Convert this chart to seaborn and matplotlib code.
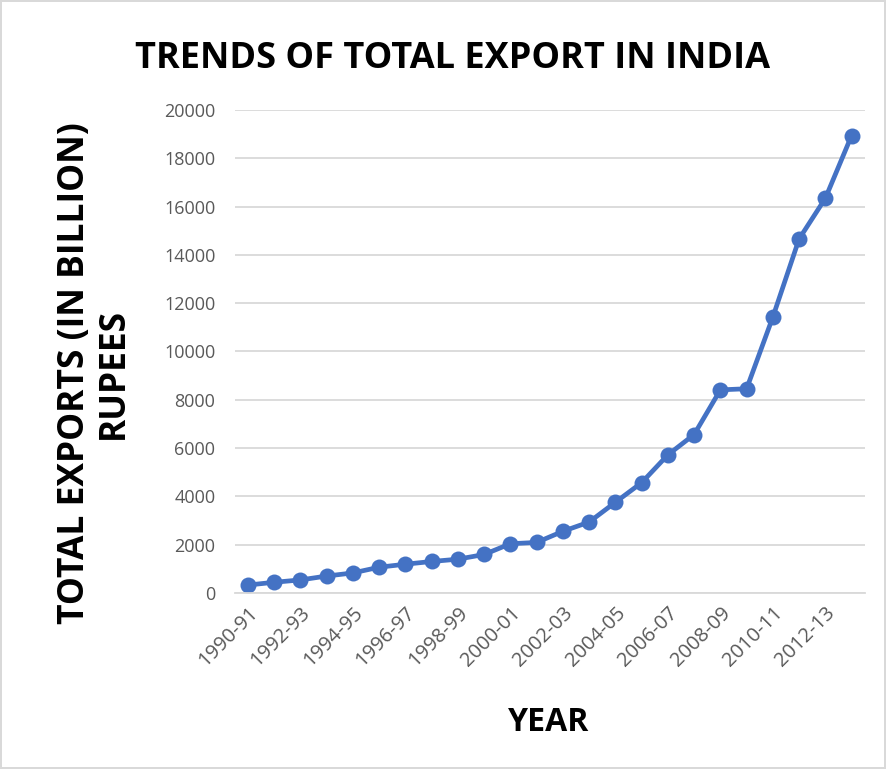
import matplotlib
matplotlib.use('Agg')
import matplotlib.pyplot as plt
import seaborn as sns
import pandas as pd
import numpy as np

years = ['1990-91', '1991-92', '1992-93', '1993-94', '1994-95', '1995-96',
         '1996-97', '1997-98', '1998-99', '1999-00', '2000-01', '2001-02',
         '2002-03', '2003-04', '2004-05', '2005-06', '2006-07', '2007-08',
         '2008-09', '2009-10', '2010-11', '2011-12', '2012-13', '2013-14']
exports = [325, 440, 537, 698, 827, 1064, 1188, 1301, 1396, 1591, 2036, 2090,
           2551, 2934, 3753, 4564, 5718, 6559, 8408, 8455, 11427, 14660, 16343, 18940]

df = pd.DataFrame({'year': years, 'exports': exports})
df['idx'] = np.arange(len(years))

sns.set_theme(style='white')
plt.rcParams['font.family'] = ['Open Sans', 'DejaVu Sans']

fig = plt.figure(figsize=(8.86, 7.69), dpi=100)
fig.patch.set_edgecolor('#d9d9d9')
fig.patch.set_linewidth(1.5)
ax = fig.add_axes([0.265, 0.229, 0.711, 0.628])

sns.lineplot(data=df, x='idx', y='exports', ax=ax, color='#4472C4',
             linewidth=3.4, marker='o', markersize=11.5, markeredgewidth=0)

ax.set_xlim(-0.5, len(years) - 0.5)
ax.set_ylim(0, 20000)
ax.set_yticks(range(0, 20001, 2000))
ax.yaxis.grid(True, color='#d9d9d9', linewidth=1.3)
ax.set_axisbelow(True)
for s in ['top', 'right', 'left']:
    ax.spines[s].set_visible(False)
ax.spines['bottom'].set_color('#d9d9d9')
ax.spines['bottom'].set_linewidth(1.3)

ax.set_xticks(df['idx'][::2])
ax.set_xticklabels(years[::2], rotation=45, ha='right', rotation_mode='anchor',
                   fontsize=14.5, color='#595959')
ax.tick_params(axis='y', labelsize=13, labelcolor='#595959', length=0, pad=14)
ax.tick_params(axis='x', length=0, pad=7)

ax.set_xlabel('YEAR', fontsize=23, fontweight='bold', color='black')
ax.xaxis.set_label_coords(0.498, -0.234)
ax.set_ylabel('TOTAL EXPORTS (IN BILLION)\nRUPEES', fontsize=25.5, fontweight='bold',
              color='black', linespacing=1.1)
ax.yaxis.set_label_coords(-0.164, 0.455)
fig.suptitle('TRENDS OF TOTAL EXPORT IN INDIA', x=0.511, y=0.947, fontsize=26,
             fontweight='bold', color='black')

fig.savefig('out.png', dpi=100)
